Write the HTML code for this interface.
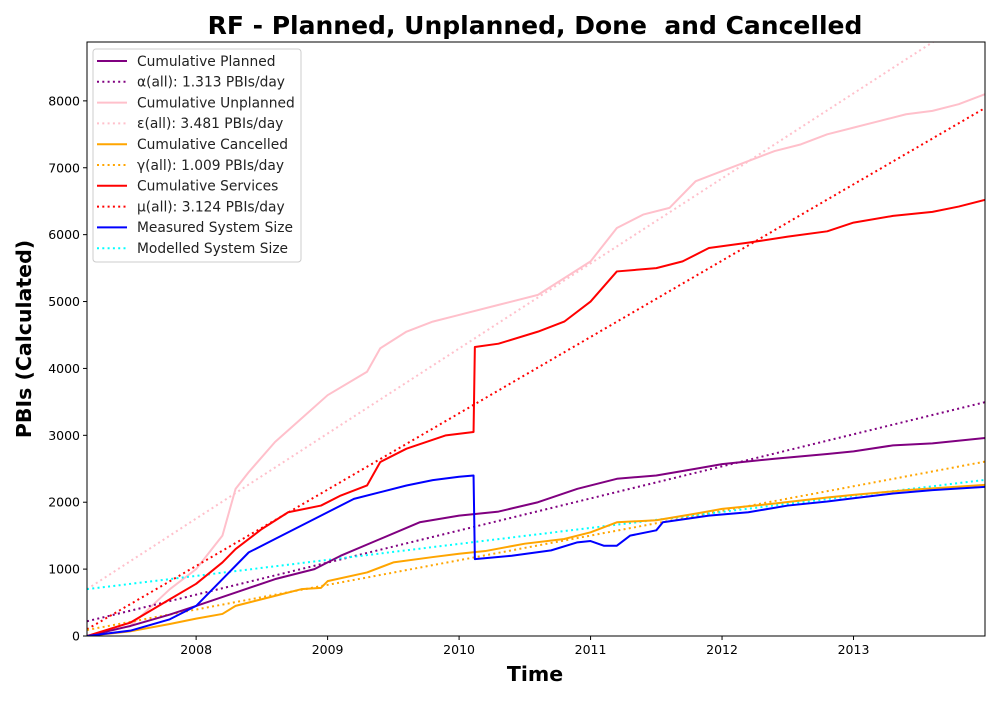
<!DOCTYPE html>
<html><head><meta charset="utf-8"><style>
body{margin:0;background:#fff}
svg text{font-family:"DejaVu Sans","Liberation Sans",sans-serif}
</style></head><body>
<svg id="c" width="1000" height="700" xmlns="http://www.w3.org/2000/svg">
<text x="535" y="34" text-anchor="middle" font-size="25" font-weight="bold" xml:space="preserve">RF - Planned, Unplanned, Done  and Cancelled</text>
<text x="535" y="681" text-anchor="middle" font-size="20.5" font-weight="bold">Time</text>
<text transform="translate(31,339) rotate(-90)" text-anchor="middle" font-size="20.5" font-weight="bold">PBIs (Calculated)</text>
<g id="plot"></g>
</svg>
<script>
const xTicks=[2008,2009,2010,2011,2012,2013];
const yTicks=[0,1000,2000,3000,4000,5000,6000,7000,8000];
const unplannedT=[2007.17,2007.5,2007.8,2008.0,2008.1,2008.2,2008.3,2008.4,2008.6,2008.8,2009.0,2009.3,2009.4,2009.6,2009.8,2010.0,2010.3,2010.6,2010.8,2011.0,2011.2,2011.4,2011.6,2011.8,2012.0,2012.2,2012.4,2012.6,2012.8,2013.0,2013.2,2013.4,2013.6,2013.8,2014.0];
const unplannedV=[0,150,700,1000,1250,1500,2200,2450,2900,3250,3600,3950,4300,4550,4700,4800,4950,5100,5350,5600,6100,6300,6400,6800,6950,7100,7250,7350,7500,7600,7700,7800,7850,7950,8100];
const servicesT=[2007.17,2007.5,2007.8,2008.0,2008.2,2008.3,2008.5,2008.7,2008.95,2009.1,2009.3,2009.4,2009.6,2009.9,2010.11,2010.12,2010.3,2010.6,2010.8,2011.0,2011.2,2011.5,2011.7,2011.9,2012.2,2012.5,2012.8,2013.0,2013.3,2013.6,2013.8,2014.0];
const servicesV=[0,200,550,780,1100,1300,1600,1850,1950,2100,2250,2600,2800,3000,3050,4320,4370,4550,4700,5000,5450,5500,5600,5800,5880,5970,6050,6180,6280,6340,6420,6520];
const measuredT=[2007.17,2007.5,2007.8,2008.0,2008.2,2008.4,2008.6,2008.8,2009.0,2009.2,2009.4,2009.6,2009.8,2010.0,2010.11,2010.12,2010.4,2010.7,2010.9,2011.0,2011.1,2011.2,2011.3,2011.5,2011.55,2011.9,2012.2,2012.5,2012.8,2013.0,2013.3,2013.6,2014.0];
const measuredV=[0,80,250,450,850,1250,1450,1650,1850,2050,2150,2250,2330,2380,2400,1150,1200,1280,1400,1420,1350,1350,1500,1580,1700,1800,1850,1950,2010,2060,2130,2180,2230];
const plannedT=[2007.17,2007.5,2007.8,2008.0,2008.3,2008.6,2008.9,2009.0,2009.1,2009.4,2009.7,2010.0,2010.3,2010.6,2010.9,2011.2,2011.5,2011.8,2012.0,2012.4,2012.8,2013.0,2013.3,2013.6,2014.0];
const plannedV=[0,150,320,450,650,850,1000,1100,1200,1450,1700,1800,1860,2000,2200,2350,2400,2500,2570,2650,2720,2760,2850,2880,2960];
const cancelledT=[2007.17,2007.5,2007.8,2008.0,2008.2,2008.3,2008.6,2008.8,2008.95,2009.0,2009.3,2009.5,2009.8,2010.0,2010.2,2010.5,2010.8,2011.0,2011.2,2011.5,2011.8,2012.0,2012.4,2012.8,2013.0,2013.4,2014.0];
const cancelledV=[0,70,180,260,330,450,600,700,720,820,950,1100,1180,1230,1270,1380,1450,1550,1700,1730,1830,1900,1980,2070,2110,2180,2260];
const fitNames=["alpha","epsilon","gamma","mu","modelled"];
const fitIntercepts=[220,700,90,100,700];
const fitRates=[1.313,3.481,1.009,3.124,0.655];
const fitColors=["purple","pink","orange","red","cyan"];
const legendLabels=["Cumulative Planned","α(all): 1.313 PBIs/day","Cumulative Unplanned","ε(all): 3.481 PBIs/day","Cumulative Cancelled","γ(all): 1.009 PBIs/day","Cumulative Services","μ(all): 3.124 PBIs/day","Measured System Size","Modelled System Size"];

const L=87,R=985,T=42,B=636,t0=2007.17,t1=2014.0,vMax=8880;
const NS="http://www.w3.org/2000/svg";
const X=t=>L+(t-t0)/(t1-t0)*(R-L);
const Y=v=>B-v/vMax*(B-T);
const plot=document.getElementById('plot');
function mk(tag,at,parent){const e=document.createElementNS(NS,tag);for(const k in at)e.setAttribute(k,at[k]);(parent||plot).appendChild(e);return e;}
const defs=mk('defs',{});const cp=mk('clipPath',{id:'cl'},defs);mk('rect',{x:L,y:T,width:R-L,height:B-T},cp);
const g=mk('g',{'clip-path':'url(#cl)'});


function fit(i){
  const a=fitIntercepts[i],r=fitRates[i]*365.25;
  const l=mk('line',{x1:X(t0),y1:Y(a),x2:X(t1),y2:Y(a+r*(t1-t0)),stroke:fitColors[i],'stroke-width':2,'stroke-dasharray':'2 3.3'},g);
  
  
}
function series(ts,vs,col,name){
  const p=mk('polyline',{points:ts.map((t,i)=>X(t)+','+Y(vs[i])).join(' '),fill:'none',stroke:col,'stroke-width':2,'stroke-linejoin':'round'},g);
  
  
}
fit(1);
series(unplannedT,unplannedV,'pink','cumulative-unplanned-line');
fit(3);fit(0);fit(2);fit(4);
series(plannedT,plannedV,'purple','cumulative-planned-line');
series(cancelledT,cancelledV,'orange','cumulative-cancelled-line');
series(servicesT,servicesV,'red','cumulative-services-line');
series(measuredT,measuredV,'blue','measured-system-size-line');
const fr=mk('rect',{x:L,y:T,width:R-L,height:B-T,fill:'none',stroke:'#000','stroke-width':1});


xTicks.forEach(t=>{const x=X(t);mk('line',{x1:x,x2:x,y1:B,y2:B+4,stroke:'#000'});
  const tx=mk('text',{x:x,y:B+18,'text-anchor':'middle','font-size':12.5});tx.textContent=t;
  
  });
yTicks.forEach(v=>{const y=Y(v);mk('line',{x1:L-4,x2:L,y1:y,y2:y,stroke:'#000'});
  const tx=mk('text',{x:L-7,y:y+4.5,'text-anchor':'end','font-size':12.5});tx.textContent=v;
  
  });
const lg=mk('g',{});


mk('rect',{x:93,y:49,width:208,height:213,rx:3,fill:'#fff','fill-opacity':0.8,stroke:'#ccc'},lg);
const lc=['purple','purple','pink','pink','orange','orange','red','red','blue','cyan'];
legendLabels.forEach((s,i)=>{const y=61+i*20.8;
  mk('line',{x1:97,x2:127,y1:y,y2:y,stroke:lc[i],'stroke-width':2,'stroke-dasharray':i%2?'2 3.3':'none'},lg);
  const tx=mk('text',{x:137,y:y+4.8,'font-size':13.8,fill:'#222'},lg);tx.textContent=s;
  
  });
</script>
</body></html>
